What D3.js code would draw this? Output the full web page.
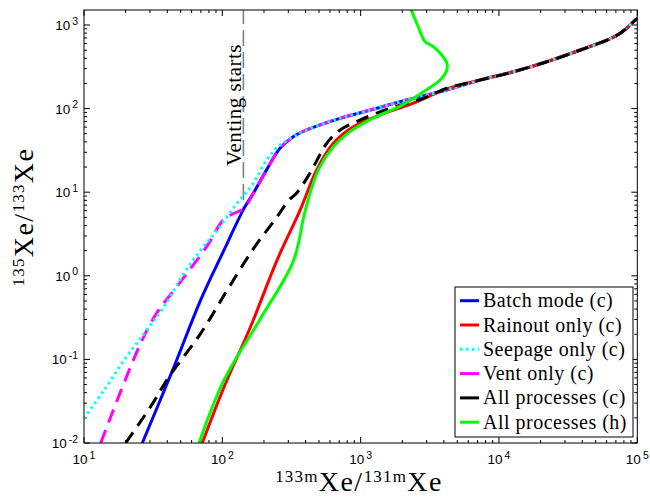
<!DOCTYPE html>
<html><head><meta charset="utf-8">
<script src="https://cdn.jsdelivr.net/npm/d3@7"></script>
<style>body{margin:0;background:#fff}svg{display:block}</style>
</head><body><svg id="c" width="650" height="498"></svg>
<script>
// ---------- data ----------
const seriesNames = ["Batch mode (c)","Rainout only (c)","Seepage only (c)","Vent only (c)","All processes (c)","All processes (h)"];
const seriesColors = ["#0000ff","#ff0000","#00ffff","#ff00ff","#000000","#00ff00"];
const xTickExponents = [1,2,3,4,5];
const yTickExponents = [-2,-1,0,1,2,3];
const ventingStart = [[142,1600],[142,6.4]];

const batchMode = [[26.4,0.01],[44.8,0.082],[69.8,0.514],[103,2.04],[143.5,6.4],[167.5,9.7],[209,18.5],[261,33.5],[326,46.1],[407,55.5],[710,76.5],[1236,98.2],[2153,127],[3750,159],[5230,186],[7290,220],[12700,276],[22200,364],[38600,502],[67100,713],[84000,914],[93800,1095],[100000,1200]];
const rainoutOnly = [[71.6,0.01],[103,0.047],[160,0.246],[247,1.5],[365,6.1],[481,18.5],[635,38.5],[885,60.7],[1380,83.7],[2405,116],[4195,172],[7290,219],[12700,275],[22200,363],[38600,501],[67100,712],[84000,913],[93800,1094],[100000,1200]];
const seepageOnly = [[10,0.0197],[14,0.043],[19.5,0.098],[27.2,0.205],[37.9,0.427],[52.8,1.07],[69.8,2.04],[92,3.53],[128,7.4],[167.5,12.8],[209,24.3],[261,36.7],[326,46.1],[407,55.5],[710,76.5],[1236,98.2],[2153,127],[3750,159],[5230,186],[7290,220],[12700,276],[22200,364],[38600,502],[67100,713],[84000,914],[93800,1095],[100000,1200]];
const ventOnly = [[13.2,0.01],[25.4,0.15],[33.6,0.36],[46.8,0.74],[77,2.23],[101.6,4.65],[121.6,5.6],[143.5,6.4],[167.5,9.7],[209,18.5],[261,33.5],[326,46.1],[407,55.5],[710,76.5],[1236,98.2],[2153,127],[3750,159],[5230,186],[7290,220],[12700,276],[22200,364],[38600,502],[67100,713],[84000,914],[93800,1095],[100000,1200]];
const allProcessesC = [[20,0.01],[30.3,0.0272],[41.2,0.062],[69.8,0.205],[108.6,0.676],[167.5,2.1],[247,5.0],[300,7.9],[345,9.8],[431,17],[569,38.5],[710,55.5],[990,73],[1633,101],[2840,133],[4195,175],[7290,219],[12700,275],[22200,363],[38600,501],[67100,712],[84000,913],[93800,1094],[100000,1200]];
const allProcessesH = [[67.8,0.01],[103,0.0568],[183,0.283],[326,1.5],[390,5.3],[442,11.2],[508,20.2],[635,35],[838,53],[1229,77],[1928,107],[2825,158],[3750,220],[4195,290],[4195,351],[3857,438],[3357,550],[2924,631],[2576,1000],[2296,1596]];

const seriesData = [batchMode, rainoutOnly, seepageOnly, ventOnly, allProcessesC, allProcessesH];
const seriesDash = [null, null, "2.5,3.5", "14,8", "13,8", null];
const drawOrder = [0,3,1,2,4,5];

// ---------- layout ----------
const svg = d3.select("#c");
const L=84, R=637.3, T=10, B=443;
const x = d3.scaleLog().domain([10,1e5]).range([L,R]);
const y = d3.scaleLog().domain([0.01, Math.pow(10, 3+15/83.6)]).range([B,T]);

svg.append("defs").append("clipPath").attr("id","clip")
  .append("rect").attr("x",L).attr("y",T).attr("width",R-L).attr("height",B-T);

// ticks (inward, all four sides)
const tg = svg.append("g").attr("stroke","#000").attr("stroke-width",1);
function minors(lo,hi){const a=[];for(let e=lo;e<hi;e++)for(let m=1;m<10;m++)a.push({v:m*Math.pow(10,e),major:m===1});a.push({v:Math.pow(10,hi),major:true});return a;}
minors(1,5).forEach(t=>{
  const px=x(t.v), len=t.major?6:3;
  tg.append("line").attr("x1",px).attr("x2",px).attr("y1",B).attr("y2",B-len);
  tg.append("line").attr("x1",px).attr("x2",px).attr("y1",T).attr("y2",T+len);
});
minors(-2,4).filter(t=>t.v<=y.domain()[1]).forEach(t=>{
  const py=y(t.v), len=t.major?6:3;
  tg.append("line").attr("y1",py).attr("y2",py).attr("x1",L).attr("x2",L+len);
  tg.append("line").attr("y1",py).attr("y2",py).attr("x1",R).attr("x2",R-len);
});

// tick labels
const sans = "'Liberation Sans', Arial, Helvetica, sans-serif";
xTickExponents.forEach(e=>{
  const t = svg.append("text").attr("x",x(Math.pow(10,e))).attr("y",464)
    .attr("text-anchor","middle").attr("font-family",sans).attr("font-size",13.5).attr("fill","#000");
  t.append("tspan").text("10");
  t.append("tspan").attr("dx",2).attr("dy",-5.5).attr("font-size",10.5).text(String(e));
});
yTickExponents.forEach(e=>{
  const t = svg.append("text").attr("x",78).attr("y",y(Math.pow(10,e))+5)
    .attr("text-anchor","end").attr("font-family",sans).attr("font-size",13.5).attr("fill","#000");
  t.append("tspan").text("10");
  t.append("tspan").attr("dx",2).attr("dy",-5.5).attr("font-size",10.5).text(e<0?"-"+Math.abs(e):String(e));
});

// curves
const line = d3.line().x(d=>x(d[0])).y(d=>y(d[1])).curve(d3.curveCatmullRom.alpha(0.5));
const pg = svg.append("g").attr("clip-path","url(#clip)");
// venting line
pg.append("path").datum(ventingStart)
  .attr("d", d3.line().x(d=>x(d[0])).y(d=>y(d[1])))
  .attr("fill","none").attr("stroke","#808080").attr("stroke-width",1.6).attr("stroke-dasharray","16,6");
drawOrder.forEach(i=>{
  pg.append("path").datum(seriesData[i]).attr("d",line)
    .attr("fill","none").attr("stroke",seriesColors[i]).attr("stroke-width",3)
    .attr("stroke-linejoin","round")
    .attr("stroke-dasharray",seriesDash[i]);
});

// axes box
svg.append("rect").attr("x",L).attr("y",T).attr("width",R-L).attr("height",B-T)
  .attr("fill","none").attr("stroke","#000").attr("stroke-width",1);

const serif = "'Liberation Serif', 'DejaVu Serif', 'Times New Roman', serif";
// venting label
svg.append("text").attr("transform","translate(241,105) rotate(-90)")
  .attr("text-anchor","middle").attr("font-family",serif).attr("font-size",21)
  .attr("letter-spacing",0.5).attr("fill","#000").text("Venting starts");

// legend
const lg = svg.append("g");
lg.append("rect").attr("x",455).attr("y",287).attr("width",178).attr("height",150)
  .attr("fill","#fff").attr("stroke","#000").attr("stroke-width",1);
seriesNames.forEach((n,i)=>{
  const yy = 300.7 + i*24.3;
  lg.append("line").attr("x1",460).attr("x2",479).attr("y1",yy).attr("y2",yy)
    .attr("stroke",seriesColors[i]).attr("stroke-width",3)
    .attr("stroke-dasharray", i===2 ? "2.5,3.5" : null);
  lg.append("text").attr("x",483).attr("y",yy+6.5).attr("font-family",serif)
    .attr("font-size",20).attr("letter-spacing",0.5).attr("fill","#000").text(n);
});

// axis labels
function isoLabel(sel, parts){
  parts.forEach(p=>{
    if(p.sup){
      sel.append("tspan").attr("font-size",17).attr("letter-spacing",1.2).attr("dy",-9).text(p.t);
    } else {
      sel.append("tspan").attr("dy",9).attr("letter-spacing",1.5).text(p.t);
    }
  });
}
const xl = svg.append("text").attr("x",359).attr("y",491).attr("text-anchor","middle")
  .attr("font-family",serif).attr("fill","#000").attr("font-size",28);
isoLabel(xl,[{t:"133m",sup:true},{t:"Xe/"},{t:"131m",sup:true},{t:"Xe"}]);

const yl = svg.append("text").attr("transform","translate(33,217) rotate(-90)").attr("text-anchor","middle")
  .attr("font-family",serif).attr("fill","#000").attr("font-size",28);
isoLabel(yl,[{t:"135",sup:true},{t:"Xe/"},{t:"133",sup:true},{t:"Xe"}]);
</script></body></html>
